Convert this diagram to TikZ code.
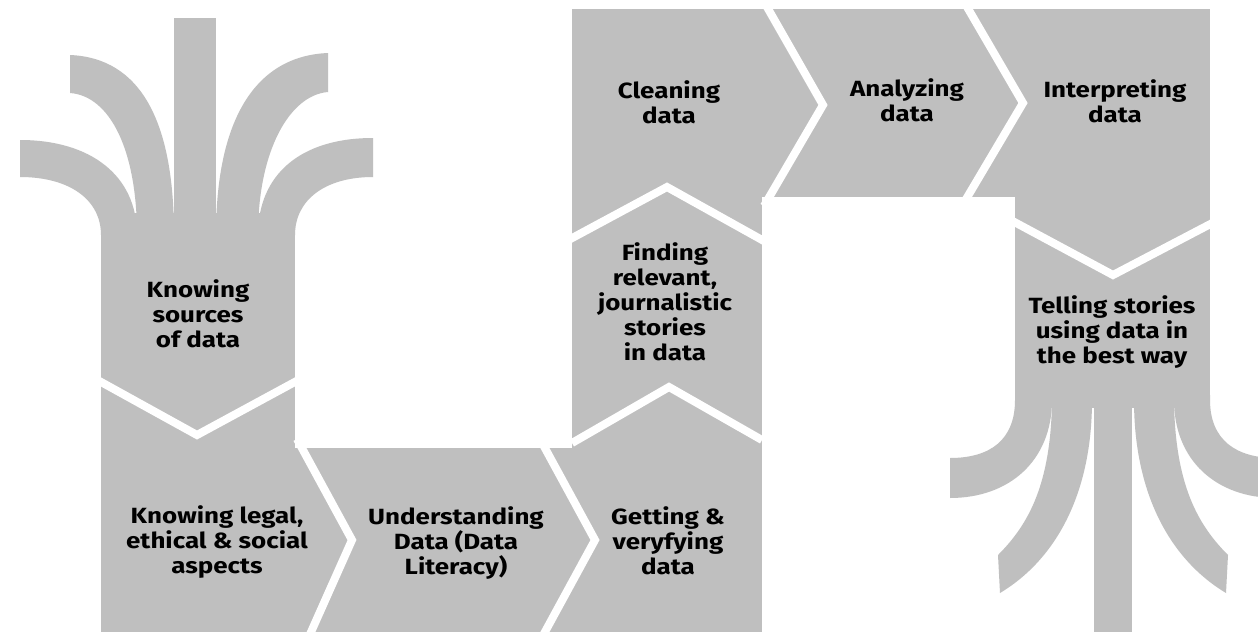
\documentclass[tikz,border=0pt]{standalone}
\usepackage{fontspec}
\setmainfont{Fira Sans}[FakeStretch=1.18]
\definecolor{blockgray}{RGB}{191,191,191}
\begin{document}
\begin{tikzpicture}[x=1pt,y=-1pt,
  grayfill/.style={fill=blockgray},
  sepline/.style={draw=white,line width=8pt,line join=miter,line cap=butt},
  lbl/.style={align=center,font=\bfseries\fontsize{22}{25}\selectfont,inner sep=0pt,text=black}]
\useasboundingbox (0,0) rectangle (1258,632);
\clip (0,0) rectangle (1258,632);
\fill[white] (0,0) rectangle (1258,632);

% ---- left tree (roots at the top) ----
\fill[grayfill] (174,18) rectangle (216,235);
\fill[grayfill] (70,55) .. controls (140,58) and (174,120) .. (174,235) -- (137,235) .. controls (137,150) and (110,96) .. (70,93) -- cycle;
\fill[grayfill] (20,140) .. controls (90,140) and (137,175) .. (137,235) -- (101,235) .. controls (101,200) and (70,177) .. (20,177) -- cycle;
\fill[grayfill] (328,53) .. controls (255,56) and (216,120) .. (216,235) -- (258,235) .. controls (258,150) and (290,95) .. (328,92) -- cycle;
\fill[grayfill] (373,138) .. controls (300,138) and (258,175) .. (258,235) -- (295,235) .. controls (295,200) and (325,177) .. (373,177) -- cycle;
\fill[grayfill] (101,213) rectangle (295,632);

% ---- rows and columns ----
\fill[grayfill] (101,448) rectangle (762,632);
\fill[grayfill] (572,9) rectangle (762,632);
\fill[grayfill] (572,9) rectangle (1210,197);
\fill[grayfill] (1015,9) rectangle (1210,408);

% ---- right tree (roots at the bottom) ----
\fill[grayfill] (1094,395) rectangle (1132,632);
\fill[grayfill] (1052,395) -- (1052,400) .. controls (1051,485) and (1028,525) .. (998,555) -- (1000,593) .. controls (1055,560) and (1092,495) .. (1092,400) -- (1092,395) -- cycle;
\fill[grayfill] (1015,395) -- (1015,400) .. controls (1015,440) and (990,458) .. (950,458) -- (950,498) .. controls (1010,498) and (1052,460) .. (1052,400) -- (1052,395) -- cycle;
\fill[grayfill] (1174,395) -- (1174,400) .. controls (1175,485) and (1198,525) .. (1228,555) -- (1226,593) .. controls (1171,560) and (1134,495) .. (1134,400) -- (1134,395) -- cycle;
\fill[grayfill] (1210,395) -- (1210,400) .. controls (1210,440) and (1236,458) .. (1276,458) -- (1276,498) .. controls (1216,498) and (1174,460) .. (1174,400) -- (1174,395) -- cycle;

% ---- white separators ----
\draw[sepline] (92,377) -- (197,435) -- (304,377);
\draw[sepline] (297,439) -- (352,540) -- (307,641);
\draw[sepline] (540,439) -- (595,540) -- (540,641);
\draw[sepline] (572,443) -- (669,387) -- (762,440);
\draw[sepline] (562,243.5) -- (667,187) -- (772,245.5);
\draw[sepline] (763,0) -- (823,105) -- (764,206);
\draw[sepline] (963,0) -- (1023,103) -- (962,206);
\draw[sepline] (1005,217) -- (1113,275) -- (1220,219);

% ---- labels ----
\node[lbl] (sources) at (198,314) {Knowing\\sources\\of data};
\node[lbl] (legal) at (217,542) {Knowing legal,\\ethical \& social\\aspects};
\node[lbl] (understanding) at (456,543) {Understanding\\Data (Data\\Literacy)};
\node[lbl] (getting) at (668,541) {Getting \&\\veryfying\\data};
\node[lbl] (finding) at (665,302) {Finding\\relevant,\\journalistic\\stories\\in data};
\node[lbl] (cleaning) at (669,102) {Cleaning\\data};
\node[lbl] (analyzing) at (907,100) {Analyzing\\data};
\node[lbl] (interpreting) at (1115,101) {Interpreting\\data};
\node[lbl] (telling) at (1112,332) {Telling stories\\using data in\\the best way};
\end{tikzpicture}
\end{document}
